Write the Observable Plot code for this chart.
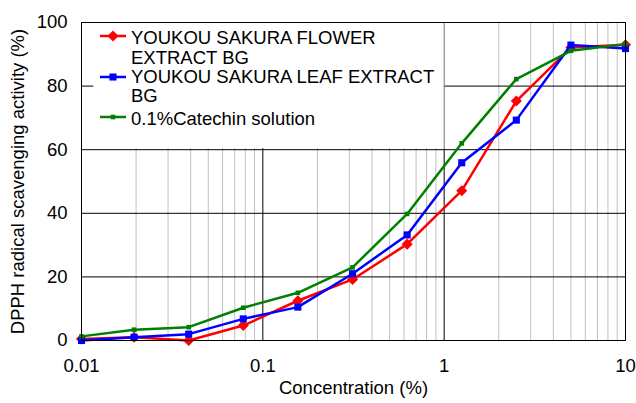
<!DOCTYPE html>
<html><head><meta charset="utf-8">
<script src="https://cdn.jsdelivr.net/npm/d3@7"></script>
<script src="https://cdn.jsdelivr.net/npm/@observablehq/plot@0.6"></script>
<style>body{margin:0;background:#fff;} svg{display:block;}</style>
</head><body><div id="chart"></div>
<script>
const concentrations = [0.01, 0.0195, 0.039, 0.078, 0.156, 0.3125, 0.625, 1.25, 2.5, 5, 10];
const flower = [0.5, 1.0, 0.0, 4.7, 12.5, 19.2, 30.3, 47.1, 75.3, 92.1, 93.0];
const leaf = [0.0, 1.0, 2.0, 6.8, 10.5, 21.0, 33.2, 55.9, 69.3, 92.9, 91.8];
const catechin = [1.3, 3.4, 4.2, 10.3, 15.0, 23.0, 39.8, 62.0, 82.2, 91.1, 93.2];
const seriesNames = [["YOUKOU SAKURA FLOWER", "EXTRACT BG"], ["YOUKOU SAKURA LEAF EXTRACT", "BG"], ["0.1%Catechin solution"]];
const seriesColors = ["#ff0000", "#0000ff", "#008000"];
const seriesSymbols = ["diamond2", "square", "square"];
const yTicks = [0, 20, 40, 60, 80, 100];
const xTicks = [0.01, 0.1, 1, 10];
const xTickLabels = ["0.01", "0.1", "1", "10"];
const minorXTicks = [0.02,0.03,0.04,0.05,0.06,0.07,0.08,0.09,0.2,0.3,0.4,0.5,0.6,0.7,0.8,0.9,2,3,4,5,6,7,8,9];

const seriesValues = [flower, leaf, catechin];
const rows = seriesValues.flatMap((vals, s) => vals.map((v, i) => ({x: concentrations[i], y: v, s})));
const font = "Liberation Sans, Arial, sans-serif";
const fs = 18.5;

const lineMarks = [];
const symR = [5, 4, 2.6];
seriesValues.forEach((vals, s) => {
  const d = rows.filter(r => r.s === s);
  lineMarks.push(Plot.line(d, {x: "x", y: "y", stroke: seriesColors[s], strokeWidth: 2.5}));
  lineMarks.push(Plot.dot(d, {x: "x", y: "y", fill: seriesColors[s], stroke: "none", symbol: () => seriesSymbols[s], r: symR[s]}));
});

const plot = Plot.plot({
  width: 636, height: 403,
  marginLeft: 81, marginRight: 11, marginTop: 22, marginBottom: 63,
  style: {fontFamily: font, fontSize: fs + "px", color: "#000", background: "#fff"},
  x: {type: "log", domain: [0.01, 10]},
  y: {domain: [0, 100]},
  marks: [
    Plot.ruleX(minorXTicks, {stroke: "#c0c0c0", strokeWidth: 1}),
    Plot.ruleX(xTicks, {stroke: "#000", strokeWidth: 1}),
    Plot.ruleY(yTicks, {stroke: "#000", strokeWidth: 1}),
    Plot.rect([{a: 0.01169, b: 1, c: 60, d: 100}], {x1: "a", x2: "b", y1: "c", y2: "d", fill: "#fff", insetTop: 1, insetBottom: 1}),
    Plot.ruleX([1], {y1: 60, y2: 100, stroke: "#c0c0c0"}),
    ...lineMarks,
    Plot.frame({stroke: "#000"}),
    Plot.axisY(yTicks, {tickSize: 0, tickPadding: 14, fontSize: fs, label: null}),
    Plot.axisX(xTicks, {tickSize: 0, tickPadding: 18, fontSize: fs, label: null, tickFormat: d => xTickLabels[xTicks.indexOf(d)]}),
    Plot.text(["Concentration (%)"], {frameAnchor: "bottom", dy: 53, fontSize: fs, fill: "#000", textAnchor: "middle"}),
    Plot.text(["DPPH radical scavenging activity (%)"], {frameAnchor: "left", dx: -63, rotate: -90, fontSize: fs, fill: "#000", textAnchor: "middle"})
  ]
});
document.getElementById("chart").appendChild(plot);

// legend
const svg = d3.select(plot);
const lg = svg.append("g").attr("font-family", font).attr("font-size", fs).attr("fill", "#000").attr("text-anchor", "start");
const itemY = [36, 77, 117];
const baselines = [[44, 63.5], [83, 102], [125]];
seriesNames.forEach((lines, s) => {
  const y = itemY[s];
  lg.append("line").attr("x1", 100).attr("x2", 126).attr("y1", y).attr("y2", y)
    .attr("stroke", seriesColors[s]).attr("stroke-width", 2.5);
  const sym = d3.symbol().type(s === 0 ? d3.symbolDiamond2 : d3.symbolSquare).size(Math.PI * symR[s] * symR[s]);
  lg.append("path").attr("d", sym()).attr("transform", `translate(113,${y})`).attr("fill", seriesColors[s]);
  lines.forEach((t, k) => {
    lg.append("text").attr("x", 131).attr("y", baselines[s][k]).text(t);
  });
});
</script></body></html>
